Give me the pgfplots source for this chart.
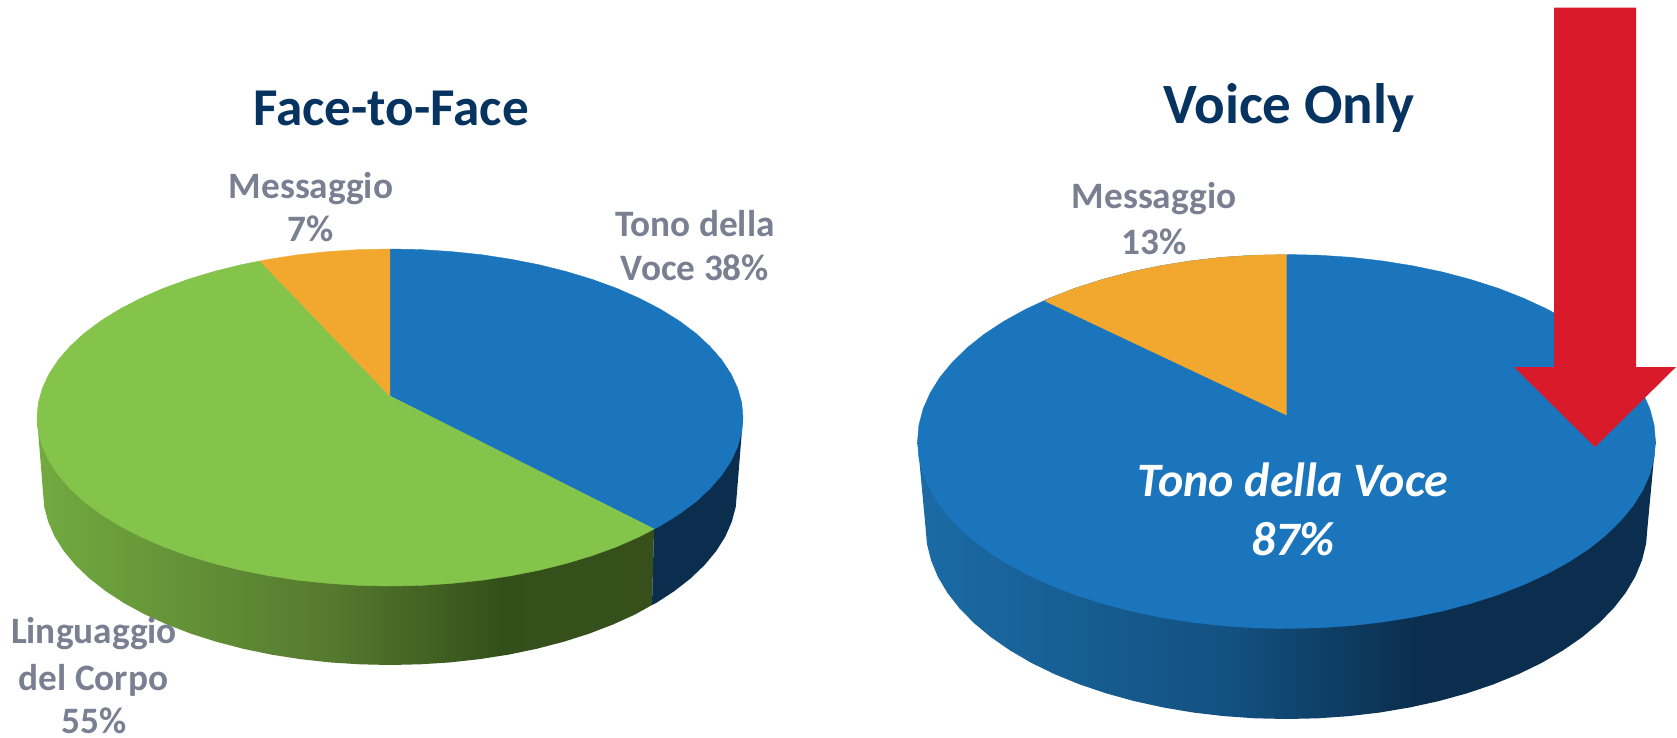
\documentclass[border=0pt]{standalone}
\usepackage{fontspec}
\setmainfont{Carlito}
\usepackage{pgfplots}
\pgfplotsset{compat=1.18}
\definecolor{cblue}{HTML}{1A75BC}
\definecolor{cgreen}{HTML}{85C44B}
\definecolor{corange}{HTML}{F2A82F}
\definecolor{cnavy}{HTML}{0B2E4E}
\definecolor{cred}{HTML}{D91A2A}
\definecolor{ctitle}{HTML}{06335F}
\definecolor{cgrey}{HTML}{7A8091}
\definecolor{ga}{HTML}{72AA40}
\definecolor{gb}{HTML}{567A2F}
\definecolor{gc}{HTML}{34501A}
\definecolor{gd}{HTML}{37501B}
\definecolor{ba}{HTML}{1B6BA6}
\definecolor{bb}{HTML}{12507F}
\definecolor{bc}{HTML}{0B2E4E}
\pgfdeclarehorizontalshading{greenside}{100bp}{color(0bp)=(ga); color(25bp)=(ga); color(48.5bp)=(gb); color(62.5bp)=(gc); color(75bp)=(gd); color(100bp)=(gd)}
\pgfdeclarehorizontalshading{blueside}{100bp}{color(0bp)=(ba); color(25bp)=(ba); color(46.6bp)=(bb); color(58.7bp)=(bc); color(75bp)=(bc); color(100bp)=(bc)}
\newcommand{\tfont}{\fontsize{53.2}{60}\selectfont\bfseries}
\newcommand{\vfont}{\fontsize{57}{64}\selectfont\bfseries}
\newcommand{\lfont}{\fontsize{37.3}{42}\selectfont\bfseries}
\newcommand{\wfont}{\fontsize{48}{54}\selectfont\bfseries\itshape}
\begin{document}
\begin{tikzpicture}
\useasboundingbox (0,0) rectangle (1677pt,737pt);
\begin{axis}[at={(0,0)},anchor=south west,scale only axis,width=1677pt,height=737pt,
  xmin=0,xmax=1677,ymin=0,ymax=737,y dir=reverse,hide axis,clip=false,
  nodes={inner sep=0pt}]
% --- Face-to-Face: side
\addplot[shading=greenside,draw=none] coordinates {(37,417.5)(43,492)(44.3,507.1)(48.3,522)(54.8,536.8)(63.9,551.2)(75.5,565.1)(89.5,578.5)(105.8,591.2)(124.2,603.2)(144.6,614.3)(167,624.5)(191,633.7)(216.5,641.8)(243.4,648.8)(271.3,654.6)(300.2,659.1)(329.7,662.4)(359.8,664.3)(390,665)(420.2,664.3)(450.3,662.4)(479.8,659.1)(508.7,654.6)(536.6,648.8)(563.5,641.8)(589,633.7)(613,624.5)(635.4,614.3)(652,605)(654,529)};
\addplot[fill=cnavy,draw=none] coordinates {(654,529)(652,605)(655.8,603.2)(674.2,591.2)(690.5,578.5)(704.5,565.1)(716.1,551.2)(725.2,536.8)(731.7,522)(735.7,507.1)(737,492)(743,417.5)};
% --- Face-to-Face: top wedges (Tono 38, Linguaggio 55, Messaggio 7)
\addplot[fill=cblue,draw=cblue,line width=0.4pt] coordinates {(390,396)(390,249)(420.8,249.6)(451.3,251.6)(481.4,254.7)(510.7,259.2)(539.2,264.8)(566.5,271.6)(592.5,279.5)(616.9,288.4)(639.6,298.4)(660.4,309.2)(679.2,320.9)(695.7,333.2)(709.9,346.3)(721.7,359.9)(731,373.9)(737.6,388.2)(741.7,402.8)(743,417.5)(741.7,432.2)(737.6,446.8)(731,461.1)(721.7,475.1)(709.9,488.7)(695.7,501.8)(679.2,514.1)(660.4,525.8)(654,529)};
\addplot[fill=cgreen,draw=cgreen,line width=0.4pt] coordinates {(390,396)(654,529)(639.6,536.6)(616.9,546.6)(592.5,555.5)(566.5,563.4)(539.2,570.2)(510.7,575.8)(481.4,580.3)(451.3,583.4)(420.8,585.4)(390,586)(359.2,585.4)(328.7,583.4)(298.6,580.3)(269.3,575.8)(240.8,570.2)(213.5,563.4)(187.5,555.5)(163.1,546.6)(140.4,536.6)(119.6,525.8)(100.8,514.1)(84.3,501.8)(70.1,488.7)(58.3,475.1)(49,461.1)(42.4,446.8)(38.3,432.2)(37,417.5)(38.3,402.8)(42.4,388.2)(49,373.9)(58.3,359.9)(70.1,346.3)(84.3,333.2)(100.8,320.9)(119.6,309.2)(140.4,298.4)(163.1,288.4)(187.5,279.5)(213.5,271.6)(240.8,264.8)(260,261)};
\addplot[fill=corange,draw=corange,line width=0.4pt] coordinates {(390,396)(260,261)(269.3,259.2)(298.6,254.7)(328.7,251.6)(359.2,249.6)(390,249)};
% --- Voice Only: side
\addplot[shading=blueside,draw=none] coordinates {(917.5,441.5)(925.5,527)(926.9,543.7)(931,560.3)(937.8,576.7)(947.3,592.7)(959.3,608.1)(973.9,623)(990.8,637.1)(1010,650.4)(1031.2,662.8)(1054.5,674.1)(1079.4,684.3)(1106,693.3)(1133.9,701)(1163,707.4)(1193.1,712.5)(1223.8,716.1)(1255,718.3)(1286.5,719)(1318,718.3)(1349.2,716.1)(1379.9,712.5)(1410,707.4)(1439.1,701)(1467,693.3)(1493.6,684.3)(1518.5,674.1)(1541.8,662.8)(1563,650.4)(1582.2,637.1)(1599.1,623)(1613.7,608.1)(1625.7,592.7)(1635.2,576.7)(1642,560.3)(1646.1,543.7)(1647.5,527)(1655.5,441.5)};
% --- Voice Only: top (Tono 87, Messaggio 13)
\addplot[fill=cblue,draw=cblue,line width=0.4pt] coordinates {(1286.5,254.5)(1318.7,255.2)(1350.6,257.3)(1382,260.9)(1412.7,265.8)(1442.4,272)(1471,279.6)(1498.2,288.3)(1523.7,298.3)(1547.4,309.3)(1569.2,321.3)(1588.8,334.2)(1606.1,348)(1620.9,362.5)(1633.2,377.5)(1642.9,393.1)(1649.9,409)(1654.1,425.2)(1655.5,441.5)(1654.1,457.8)(1649.9,474)(1642.9,489.9)(1633.2,505.5)(1620.9,520.5)(1606.1,535)(1588.8,548.8)(1569.2,561.7)(1547.4,573.7)(1523.7,584.7)(1498.2,594.7)(1471,603.4)(1442.4,611)(1412.7,617.2)(1382,622.1)(1350.6,625.7)(1318.7,627.8)(1286.5,628.5)(1254.3,627.8)(1222.4,625.7)(1191,622.1)(1160.3,617.2)(1130.6,611)(1102,603.4)(1074.8,594.7)(1049.3,584.7)(1025.6,573.7)(1003.8,561.7)(984.2,548.8)(966.9,535)(952.1,520.5)(939.8,505.5)(930.1,489.9)(923.1,474)(918.9,457.8)(917.5,441.5)(918.9,425.2)(923.1,409)(930.1,393.1)(939.8,377.5)(952.1,362.5)(966.9,348)(984.2,334.2)(1003.8,321.3)(1025.6,309.3)(1049.3,298.3)(1074.8,288.3)(1102,279.6)(1130.6,272)(1160.3,265.8)(1191,260.9)(1222.4,257.3)(1254.3,255.2)};
\addplot[fill=corange,draw=corange,line width=0.4pt] coordinates {(1286.5,415)(1045,301)(1049.3,298.3)(1074.8,288.3)(1102,279.6)(1130.6,272)(1160.3,265.8)(1191,260.9)(1222.4,257.3)(1254.3,255.2)(1286.5,254.5)};
% --- Arrow
\addplot[fill=cred,draw=none] coordinates {(1554,7.5)(1636,7.5)(1636,367)(1676,367)(1595,447)(1514,367)(1554,367)};
% --- Text
\node[text=ctitle,font=\tfont] at (axis cs:391,108) {Face-to-Face};
\node[text=ctitle,font=\vfont] at (axis cs:1289,108) {Voice Only};
\node[text=cgrey,font=\lfont] at (axis cs:311,189) {Messaggio};
\node[text=cgrey,font=\lfont] at (axis cs:311,229) {7\%};
\node[text=cgrey,font=\lfont] at (axis cs:695,224) {Tono della};
\node[text=cgrey,font=\lfont] at (axis cs:695,268) {Voce 38\%};
\node[text=cgrey,font=\lfont,anchor=base] at (axis cs:94,643) {Linguaggio};
\node[text=cgrey,font=\lfont,anchor=base] at (axis cs:93.5,690) {del Corpo};
\node[text=cgrey,font=\lfont,anchor=base] at (axis cs:94,733) {55\%};
\node[text=cgrey,font=\lfont] at (axis cs:1154,199) {Messaggio};
\node[text=cgrey,font=\lfont] at (axis cs:1154,242) {13\%};
\node[text=white,font=\wfont] at (axis cs:1293,480) {Tono della Voce};
\node[text=white,font=\wfont] at (axis cs:1293,539) {87\%};
\end{axis}
\end{tikzpicture}
\end{document}
